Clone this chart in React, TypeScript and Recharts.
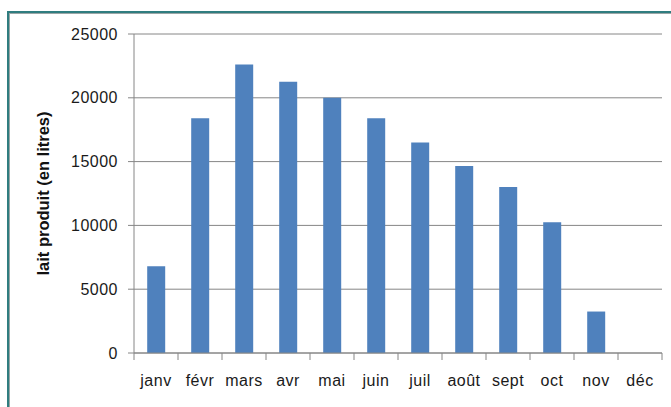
import { BarChart, Bar, XAxis, YAxis, CartesianGrid } from "recharts";

const months = ["janv", "févr", "mars", "avr", "mai", "juin", "juil", "août", "sept", "oct", "nov", "déc"];
const milk = [6800, 18400, 22600, 21250, 20000, 18400, 16500, 14650, 13000, 10250, 3250, 0];
const yTicks = [0, 5000, 10000, 15000, 20000, 25000];

const data = months.map((month, i) => ({ month, milk: milk[i] }));

const WIDTH = 671;
const HEIGHT = 407;
const MARGIN = { top: 34, right: 9, bottom: 24, left: 0 };
const Y_AXIS_WIDTH = 134;
const GRID = "#868686";
const LABEL_FONT = "'Liberation Sans', Arial, sans-serif";

const band = (WIDTH - MARGIN.left - MARGIN.right - Y_AXIS_WIDTH) / months.length;

// Excel puts the x tick marks between categories, not under them
const MonthTick = (props: any) => {
  const { x, y, payload, index } = props;
  const last = index === months.length - 1;
  return (
    <g>
      <line x1={x - band / 2} x2={x - band / 2} y1={y} y2={y + 7} stroke={GRID} />
      {last && <line x1={x + band / 2} x2={x + band / 2} y1={y} y2={y + 7} stroke={GRID} />}
      <text
        x={x}
        y={y + 29}
        textAnchor="middle"
        dominantBaseline="middle"
        fontSize={16}
        letterSpacing={0.5}
        fontFamily={LABEL_FONT}
        fill="#1a1a1a"
      >
        {payload.value}
      </text>
    </g>
  );
};

export default function App() {
  return (
    <div
      style={{
        position: "absolute",
        left: 0,
        top: 0,
        width: WIDTH,
        height: HEIGHT,
        overflow: "hidden",
        background: "#fff",
      }}
    >
      <div
        style={{
          position: "absolute",
          left: 7,
          top: 11,
          width: 700,
          height: 430,
          borderTop: "2px solid #2f7d7f",
          borderLeft: "2px solid #2f7d7f",
          boxShadow: "inset 1px 1px 0 #9aa6a6",
        }}
      />
      <div style={{ position: "absolute", left: 0, top: 0 }}>
        <BarChart width={WIDTH} height={HEIGHT} data={data} margin={MARGIN} barCategoryGap="30%">
          <CartesianGrid vertical={false} stroke={GRID} strokeWidth={1} />
          <XAxis
            dataKey="month"
            height={30}
            stroke={GRID}
            tickLine={false}
            tickSize={0}
            tickMargin={0}
            interval={0}
            tick={<MonthTick />}
          />
          <YAxis
            width={Y_AXIS_WIDTH}
            domain={[0, 25000]}
            ticks={yTicks}
            interval={0}
            stroke={GRID}
            tickSize={6}
            tickMargin={10}
            tick={{ fontSize: 16, letterSpacing: 0.5, fill: "#1a1a1a", fontFamily: LABEL_FONT }}
            label={({ viewBox }: any) => (
              <text
                x={45}
                y={viewBox.y + viewBox.height / 2}
                transform={`rotate(-90, 45, ${viewBox.y + viewBox.height / 2})`}
                textAnchor="middle"
                dominantBaseline="middle"
                fontSize={16.5}
                fontWeight="bold"
                fontFamily={LABEL_FONT}
                fill="#111"
              >
                lait produit (en litres)
              </text>
            )}
          />
          <Bar dataKey="milk" fill="#4F81BD" isAnimationActive={false} />
        </BarChart>
      </div>
    </div>
  );
}
